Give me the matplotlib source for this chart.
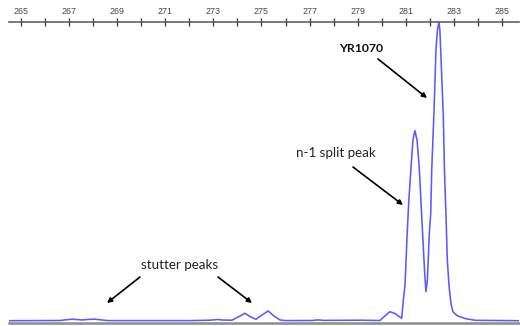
import matplotlib
matplotlib.use("Agg")
import matplotlib.pyplot as plt

# Fragment size (bp) and relative fluorescence (arbitrary units)
size_bp = [264.50, 266.62, 266.87, 267.12, 267.37, 267.54, 267.79, 268.08, 268.37, 268.62,
           272.03, 272.86, 273.19, 273.36, 273.77, 274.11, 274.31, 274.52, 274.77, 275.02,
           275.28, 275.52, 275.77, 275.98, 277.10, 277.35, 277.60, 279.10, 279.93, 280.13,
           280.34, 280.55, 280.83, 280.90, 280.97, 281.06, 281.13, 281.22, 281.30, 281.38,
           281.47, 281.56, 281.63, 281.70, 281.78, 281.84, 281.90, 281.98, 282.04, 282.08,
           282.17, 282.26, 282.32, 282.38, 282.42, 282.45, 282.56, 282.61, 282.67, 282.73,
           282.80, 282.88, 282.96, 283.14, 283.46, 283.88, 285.71]
signal = [0.0, 0.2, 0.9, 1.5, 1.1, 0.7, 1.3, 1.5, 0.7, 0.1,
          0.1, 0.5, 1.2, 0.7, 0.5, 4.7, 7.4, 4.2, 1.4, 5.7,
          9.7, 4.7, 0.7, 0.1, 0.2, 0.8, 0.3, 0.5, 0.2, 4.7,
          9.0, 7.2, 2.4, 20.7, 35.7, 87.7, 120.7, 153.7, 180.7, 190.0,
          180.7, 153.7, 120.7, 87.7, 50.7, 29.0, 40.7, 87.7, 107.7, 150.7,
          205.7, 272.7, 290.7, 298.7, 290.7, 272.7, 205.7, 150.7, 107.7, 60.0,
          35.0, 17.0, 9.0, 5.0, 2.2, 0.4, 0.0]

major_ticks = [265, 267, 269, 271, 273, 275, 277, 279, 281, 283, 285]
minor_ticks = [266, 268, 270, 272, 274, 276, 278, 280, 282, 284]

W, H = 520, 326
fig = plt.figure(figsize=(W / 100, H / 100), dpi=100)
ax = fig.add_axes([9 / W, 3 / H, 510 / W, 301 / H])

ax.plot(size_bp, signal, color="#5a5aff", lw=1.15, solid_joinstyle="round")

ax.set_xlim(264.50, 285.71)
ax.set_ylim(-2.3, 298.7)

for s in ["left", "right"]:
    ax.spines[s].set_visible(False)
ax.spines["top"].set_color("#555555")
ax.spines["top"].set_linewidth(1.1)
ax.spines["bottom"].set_color("#8c8c8c")
ax.spines["bottom"].set_linewidth(1.8)

ax.xaxis.tick_top()
ax.set_xticks(major_ticks)
ax.set_xticks(minor_ticks, minor=True)
ax.set_xticklabels([str(t) for t in major_ticks])
ax.tick_params(axis="x", which="both", direction="inout", length=6, width=1.0,
               color="#444444", pad=1.5, labelsize=6.4, labelcolor="#444444",
               bottom=False, top=True)
ax.set_yticks([])

fam = ["Lato", "DejaVu Sans"]
for lbl in ax.get_xticklabels():
    lbl.set_family(["Liberation Sans", "DejaVu Sans"])

def px(x, y):
    return (x / W, 1 - y / H)

arrow = dict(arrowstyle="-|>", color="black", lw=1.2, mutation_scale=7,
             shrinkA=0, shrinkB=0)

fig.text(*px(361, 48), "YR1070", ha="center", va="center", fontsize=8.8,
         fontweight="bold", family=fam, color="#111111")
ax.annotate("", xy=px(427, 98), xytext=px(378, 59), xycoords="figure fraction",
            textcoords="figure fraction", arrowprops=arrow)

fig.text(*px(335.5, 153), "n-1 split peak", ha="center", va="center", fontsize=9.6,
         family=fam, color="#222222")
ax.annotate("", xy=px(403, 205), xytext=px(353, 167), xycoords="figure fraction",
            textcoords="figure fraction", arrowprops=arrow)

fig.text(*px(180, 265), "stutter peaks", ha="center", va="center", fontsize=9.6,
         family=fam, color="#222222")
ax.annotate("", xy=px(107, 303), xytext=px(140, 277), xycoords="figure fraction",
            textcoords="figure fraction", arrowprops=arrow)
ax.annotate("", xy=px(252, 303), xytext=px(218, 277), xycoords="figure fraction",
            textcoords="figure fraction", arrowprops=arrow)

fig.savefig("out.png", dpi=100)
